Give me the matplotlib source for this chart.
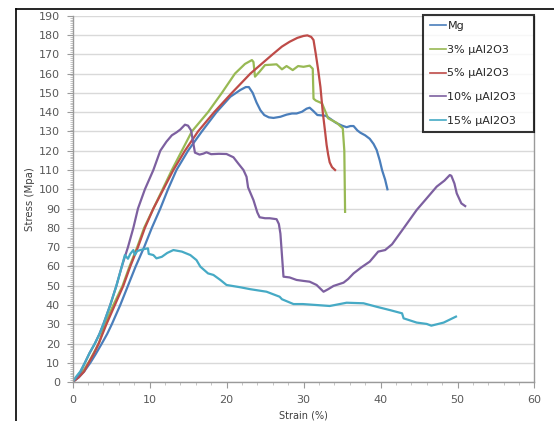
import numpy as np
import matplotlib
matplotlib.use("Agg")
import matplotlib.pyplot as plt
from matplotlib.lines import Line2D
from matplotlib.ticker import MultipleLocator

# Stress-strain curves
mg_strain = [0, 0.8, 1.5, 2.3, 3.0, 3.8, 4.5, 5.1, 6.2, 7.2, 8.2, 9.3, 10.3, 11.4, 12.4, 13.5,
             15.0, 16.8, 18.7, 20.5, 21.8, 22.5, 22.9, 23.4, 23.9, 24.4, 24.9, 25.5, 26.1, 27.0,
             27.8, 28.5, 29.1, 29.8, 30.4, 30.8, 31.3, 31.8, 32.4, 32.9, 33.5, 34.2, 35.0, 35.6,
             36.1, 36.5, 37.0, 37.4, 38.0, 38.6, 39.1, 39.5, 39.9, 40.2, 40.6, 40.9]
mg_stress = [0, 2.5, 5.5, 10, 14.5, 20, 25, 30, 40, 50, 60, 70, 80, 90, 100, 110,
             120, 130, 140, 148, 151.5, 153, 153, 150, 145, 141, 138.5, 137.3, 137, 137.6,
             138.7, 139.3, 139.3, 140.2, 141.8, 142.3, 140.5, 138.5, 138.3, 138.1, 136.5, 134.5, 133, 132.2,
             132.8, 132.8, 130.5, 129.3, 128, 126.2, 123.5, 120.4, 115, 110, 105, 100]

al3_strain = [0, 0.8, 1.5, 2.2, 3.0, 3.5, 4.2, 5.3, 6.5, 7.4, 8.4, 9.3, 10.5, 11.7, 12.9, 14.2,
              15.5, 17.6, 19.4, 21.1, 22.4, 23.3, 23.5, 23.7, 24.3, 25.0, 25.8, 26.5, 27.2, 27.8,
              28.6, 29.3, 30.0, 30.8, 31.2, 31.3, 31.6, 32.4, 33.2, 34.3, 35.1, 35.3, 35.4]
al3_stress = [0, 3, 6.5, 11, 17, 21, 30, 40, 50, 60, 70, 80, 90, 100, 110, 120,
              130, 140, 150, 160, 165, 167, 166, 158.4, 161, 164.4, 164.6, 164.8, 162.2, 163.9,
              161.8, 163.9, 163.5, 164.1, 162.5, 147, 146, 144.6, 136.8, 134.5, 131.6, 120, 88.3]

al5_strain = [0, 0.8, 1.5, 2.1, 2.8, 3.4, 4.4, 5.5, 6.6, 7.5, 8.5, 9.4, 10.5, 11.8, 13.1, 14.6,
              16.3, 18.4, 20.7, 23.1, 26.0, 27.2, 28.2, 29.2, 30.0, 30.5, 31.0, 31.3, 31.6, 31.9,
              32.2, 32.5, 32.8, 33.0, 33.2, 33.4, 33.7, 34.1]
al5_stress = [0, 2.5, 5.5, 10, 15, 20, 30, 40, 50, 60, 70, 80, 90, 100, 110, 120,
              130, 140, 150, 160, 170, 174, 176.5, 178.5, 179.5, 179.8, 179, 177.4, 170, 162,
              153, 140, 130, 123, 118, 114, 111.5, 110]

al10_strain = [0, 0.6, 1.0, 1.6, 2.2, 2.9, 3.5, 4.0, 4.9, 5.7, 6.4, 7.2, 7.9, 8.5, 9.4, 10.5,
               11.4, 12.2, 12.9, 13.5, 14.0, 14.6, 15.0, 15.4, 15.9, 16.5, 17.0, 17.4, 18.0, 19.0,
               20.0, 20.9, 21.5, 22.2, 22.6, 22.8, 23.5, 24.0, 24.3, 25.0, 25.6, 26.5, 26.8, 27.0,
               27.4, 28.2, 29.1, 30.0, 30.8, 31.7, 32.6, 33.2, 33.9, 35.2, 35.8, 36.5, 37.5, 38.6,
               39.7, 40.6, 41.5, 43.0, 44.7, 45.8, 47.3, 48.3, 49.0, 49.2, 49.6, 49.9, 50.5, 51.0]
al10_stress = [0, 3, 5, 10, 15, 20, 25, 30, 40, 50, 60, 70, 80, 90, 100, 110,
               120, 124.7, 128, 129.5, 131, 133.5, 133, 130.5, 119, 118, 118.5, 119.2, 118.2, 118.4,
               118.3, 116.6, 113.5, 110, 106.5, 101, 94.4, 88, 85.5, 85, 85, 84.5, 82, 77,
               54.7, 54.3, 53, 52.5, 52.1, 50.4, 46.9, 48.2, 49.9, 51.6, 53.5, 56.4, 59.5, 62.5,
               67.7, 68.5, 71.5, 79.8, 89.3, 94.4, 101.4, 104.5, 107.4, 107, 103, 97.9, 92.7, 91.3]

al15_strain = [0, 0.5, 1.0, 1.6, 2.2, 2.9, 3.5, 4.0, 4.9, 5.7, 6.4, 6.8, 7.2, 7.5, 7.9, 8.1,
               8.4, 8.8, 9.3, 9.8, 9.9, 10.5, 10.9, 11.6, 12.3, 13.1, 14.2, 15.3, 16.1, 16.6,
               17.6, 18.3, 19.2, 20.0, 21.8, 23.1, 25.2, 26.9, 27.2, 28.7, 29.9, 31.7, 33.4, 35.6,
               37.8, 39.5, 41.2, 42.8, 43.0, 44.7, 46.0, 46.6, 48.2, 49.8]
al15_stress = [0, 3, 5.5, 10, 15, 20, 25, 30, 40, 50, 60, 65.9, 64, 66.5, 68.5, 66,
               68, 68.5, 69, 69.4, 66.5, 65.9, 64.2, 65, 67, 68.5, 67.7, 65.9, 63.3, 59.9,
               56.4, 55.6, 53, 50.4, 49.2, 48.2, 46.9, 44.3, 43, 40.5, 40.5, 40, 39.5, 41.2,
               40.9, 39.1, 37.4, 35.7, 33.1, 30.9, 30.2, 29.3, 30.9, 34]

labels = ["Mg", "3% µAl2O3", "5% µAl2O3", "10% µAl2O3", "15% µAl2O3"]
colors = ["#4A7EBB", "#98B954", "#BE4B48", "#7D60A0", "#46AAC5"]

fig = plt.figure(figsize=(5.54, 4.21), dpi=100)
ax = fig.add_axes([0.1309, 0.0922, 0.8339, 0.8705])

series = [(mg_strain, mg_stress), (al3_strain, al3_stress), (al5_strain, al5_stress),
          (al10_strain, al10_stress), (al15_strain, al15_stress)]
for (x, y), lab, col in zip(series, labels, colors):
    ax.plot(x, y, color=col, lw=1.6, label=lab, solid_joinstyle="round")

ax.set_xlim(0, 60)
ax.set_ylim(0, 190)
ax.xaxis.set_major_locator(MultipleLocator(10))
ax.xaxis.set_minor_locator(MultipleLocator(2))
ax.yaxis.set_major_locator(MultipleLocator(10))
ax.yaxis.set_minor_locator(MultipleLocator(1))
ax.grid(axis="y", color="#D9D9D9", lw=1)
ax.set_axisbelow(True)

for s in ["left", "bottom", "right"]:
    ax.spines[s].set_color("#9A9A9A")
    ax.spines[s].set_linewidth(1)
ax.spines["top"].set_visible(False)

ax.tick_params(axis="both", which="major", labelsize=8, labelcolor="#595959",
               color="#9A9A9A", length=4, width=0.8)
ax.tick_params(axis="both", which="minor", color="#BBBBBB", length=2, width=0.6)
ax.tick_params(axis="y", which="both", right=False)
ax.tick_params(axis="y", pad=5)
ax.tick_params(axis="x", pad=5)

ax.set_ylabel("Stress (Mpa)", fontsize=7.3, color="#404040", labelpad=3)
ax.set_xlabel("Strain (%)", fontsize=7, color="#404040", labelpad=4)

# legend box spans a fixed width, entries sit on the left
leg = ax.legend(loc="upper left", bbox_to_anchor=(0.7587, 0.6, 0.2413, 0.4027), mode="expand",
                fontsize=8, frameon=True, fancybox=False, handlelength=1.5, handletextpad=0.1,
                labelspacing=1.22, borderpad=0.6, borderaxespad=0)
leg.get_frame().set_edgecolor("black")
leg.get_frame().set_linewidth(1.5)
for t in leg.get_texts():
    t.set_color("#262626")
for h in leg.get_lines():
    h.set_linewidth(1.2)

# black frame round the figure (top and left edges)
fig.add_artist(Line2D([16 / 554, 1], [1 - 9 / 421, 1 - 9 / 421], color="black", lw=1.2))
fig.add_artist(Line2D([16 / 554, 16 / 554], [0, 1 - 9 / 421], color="black", lw=1.2))

fig.savefig("out.png", dpi=100)
